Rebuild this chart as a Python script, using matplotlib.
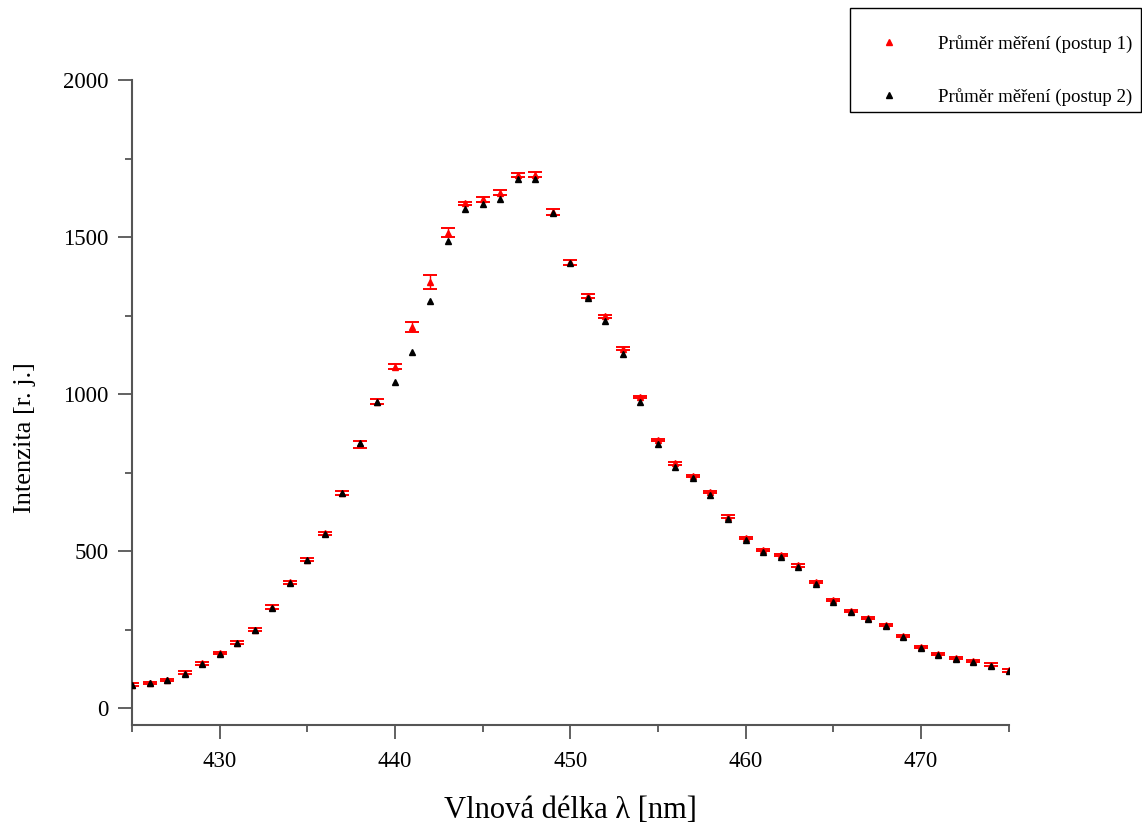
import matplotlib.pyplot as plt
from matplotlib.lines import Line2D
from matplotlib.patches import Rectangle
import numpy as np

plt.rcParams['font.family'] = ['Liberation Serif', 'DejaVu Serif']

# Vlnova delka [nm]
wavelength = np.arange(425, 476)

# Prumer mereni (postup 1) a jeho chyba
mean_1 = [75, 80, 90, 112, 143, 175, 208, 250, 322, 400,
          473, 557, 684, 840, 975, 1087, 1214, 1357, 1514, 1607,
          1620, 1641, 1698, 1699, 1580, 1419, 1312, 1247, 1144, 990,
          853, 779, 739, 688, 610, 541, 503, 487, 454, 401,
          344, 309, 287, 264, 230, 195, 172, 160, 150, 138,
          120]
err_1 = [5, 4, 4, 5, 5, 4, 5, 5, 5, 4,
         4, 5, 6, 12, 8, 8, 15, 23, 14, 6,
         7, 8, 7, 7, 10, 9, 5, 5, 5, 4,
         4, 5, 4, 4, 4, 4, 4, 4, 4, 4,
         4, 4, 4, 4, 4, 4, 4, 4, 4, 4,
         4]

# Prumer mereni (postup 2)
mean_2 = [74, 79, 89, 110, 141, 173, 206, 248, 320, 397,
          470, 555, 684, 843, 975, 1037, 1133, 1295, 1488, 1589,
          1605, 1621, 1684, 1685, 1575, 1416, 1307, 1232, 1128, 974,
          840, 767, 733, 680, 603, 535, 498, 482, 449, 394,
          339, 305, 283, 261, 226, 192, 169, 157, 147, 135,
          118]

labels = ['Průměr měření (postup 1)', 'Průměr měření (postup 2)']

W, H = 1142, 825
fig = plt.figure(figsize=(W / 100, H / 100), dpi=100)
ax = fig.add_axes([0.1156, 0.1212, 0.7675, 0.7818])

ax.errorbar(wavelength, mean_1, yerr=err_1, fmt='^', color='red', ms=4,
            ecolor='red', elinewidth=1, capsize=4.7, capthick=1.4, zorder=2)
ax.plot(wavelength, mean_2, '^', color='black', ms=4, zorder=3)

ax.set_xlim(425, 475)
ax.set_ylim(-54, 2000)
ax.set_xticks([430, 440, 450, 460, 470])
ax.set_xticks(np.arange(425, 476, 5), minor=True)
ax.set_yticks([0, 500, 1000, 1500, 2000])
ax.set_yticks(np.arange(0, 2001, 250), minor=True)

for side in ['top', 'right']:
    ax.spines[side].set_visible(False)
for side in ['left', 'bottom']:
    ax.spines[side].set_color('#555555')
    ax.spines[side].set_linewidth(1.5)

ax.tick_params(which='major', direction='out', length=10, width=1.3,
               color='#555555', labelsize=16.5)
ax.tick_params(axis='x', which='major', pad=9)
ax.tick_params(axis='y', which='major', pad=7)
ax.tick_params(which='minor', direction='out', length=5, width=1.3,
               color='#555555')

ax.set_xlabel('Vlnová délka λ [nm]', fontsize=22, labelpad=17)
ax.set_ylabel('Intenzita [r. j.]', fontsize=19)
ax.yaxis.set_label_coords(-0.109, 0.445)

# legenda jen se znackami, bez chybovych usecek; ramecek zvlast
handles = [Line2D([], [], ls='none', marker='^', ms=4, color='red'),
           Line2D([], [], ls='none', marker='^', ms=4, color='black')]
fig.legend(handles, labels, loc='upper right',
           bbox_to_anchor=(1132 / W, 1 - 35 / H),
           fontsize=13.6, frameon=False, labelspacing=1.85, borderpad=0,
           handlelength=2.0, handletextpad=1.55, borderaxespad=0)
fig.add_artist(Rectangle((850 / W, 1 - 112 / H), 291 / W, 104 / H,
                         transform=fig.transFigure, fill=False,
                         edgecolor='black', linewidth=1.0))

fig.savefig('out.png', dpi=100)
